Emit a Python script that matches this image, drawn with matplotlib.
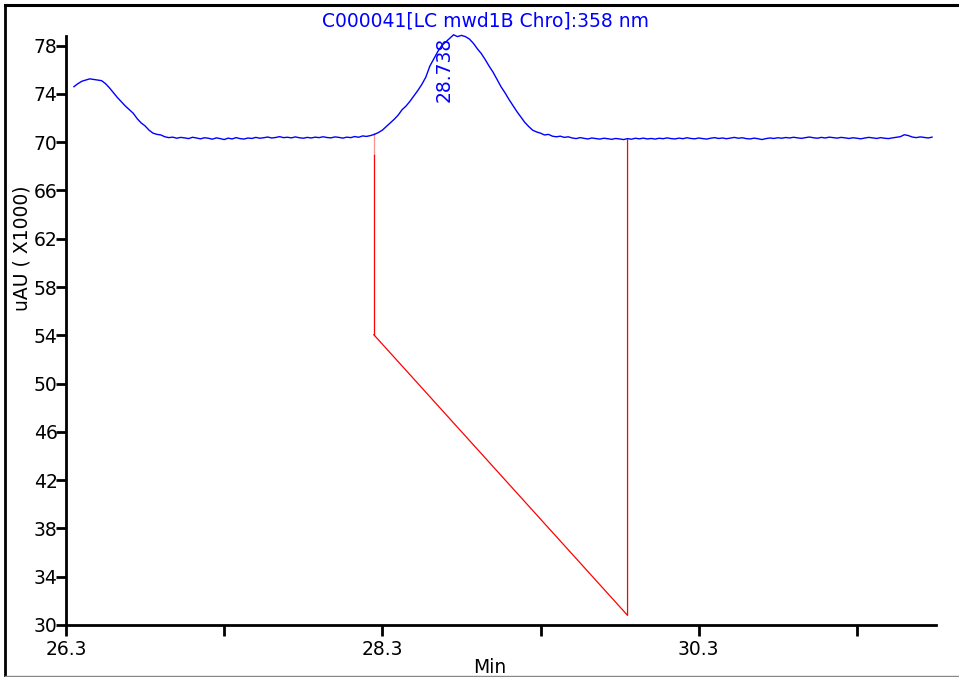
import numpy as np
import matplotlib
matplotlib.use("Agg")
import matplotlib.pyplot as plt
from matplotlib.lines import Line2D

plt.rcParams['font.family'] = ['DejaVu Sans']

# Detector trace, sampled every 0.025 min from 26.35 min
t_start = 26.35
t_step = 0.025
signal = [
    # early hump and fall-off
    74.6, 74.85, 75.05, 75.15, 75.25, 75.2, 75.15, 75.1, 74.85, 74.5,
    74.1, 73.7, 73.35, 73.0, 72.7, 72.4, 71.95, 71.6, 71.35, 71.0,
    70.75, 70.65, 70.6, 70.45,
    # baseline before the peak
    70.38, 70.42, 70.33, 70.40, 70.36, 70.30, 70.41, 70.35, 70.28, 70.37,
    70.33, 70.25, 70.36, 70.30, 70.22, 70.34, 70.27, 70.38, 70.30, 70.26,
    70.35, 70.31, 70.40, 70.33, 70.37, 70.43, 70.35, 70.39, 70.46, 70.38,
    70.41, 70.36, 70.44, 70.37, 70.33, 70.40, 70.35, 70.42, 70.38, 70.45,
    70.39, 70.36, 70.44, 70.40, 70.34, 70.42, 70.38, 70.47, 70.41, 70.52, 70.48,
    # peak at 28.738 min
    70.55, 70.65, 70.8, 71.0, 71.3, 71.6, 71.9, 72.25, 72.7, 73.0,
    73.4, 73.85, 74.3, 74.8, 75.4, 76.3, 76.9, 77.5, 78.0, 78.3,
    78.6, 78.9, 78.75, 78.85, 78.75, 78.55, 78.2, 77.75, 77.35, 76.85,
    76.3, 75.8, 75.2, 74.6, 74.1, 73.55, 73.05, 72.55, 72.1, 71.65,
    71.3, 71.0, 70.85, 70.75, 70.6, 70.65, 70.5, 70.45, 70.5, 70.4,
    70.45, 70.35,
    # baseline after the peak
    70.30, 70.38, 70.32, 70.27, 70.35, 70.30, 70.26, 70.33, 70.29, 70.24,
    70.31, 70.27, 70.22, 70.30, 70.25, 70.33, 70.28, 70.34, 70.27, 70.31,
    70.26, 70.33, 70.29, 70.36, 70.30, 70.27, 70.34, 70.29, 70.37, 70.31,
    70.28, 70.35, 70.30, 70.26, 70.33, 70.38, 70.31, 70.35, 70.29, 70.34,
    70.40, 70.33, 70.37, 70.30, 70.27, 70.34, 70.29, 70.22, 70.30, 70.35,
    70.31, 70.37, 70.33, 70.39, 70.35, 70.41, 70.36, 70.32, 70.38, 70.43,
    70.37, 70.33, 70.40, 70.35, 70.42, 70.38, 70.34, 70.40, 70.36, 70.31,
    70.37, 70.33, 70.28, 70.35, 70.40, 70.36, 70.31, 70.38, 70.33, 70.30,
    70.36, 70.41, 70.46, 70.62, 70.55, 70.43, 70.38, 70.44, 70.40, 70.35,
    70.42,
]
times = t_start + t_step * np.arange(len(signal))

# Integration baseline event marks
event_t = [28.246, 28.246, 29.85, 29.85]
event_v = [70.8, 54.05, 30.8, 70.2]

peak_rt = 28.738
peak_label = "28.738"

title = "C000041[LC mwd1B Chro]:358 nm"
x_ticks_major = [26.3, 28.3, 30.3]
x_ticks_minor = [27.3, 29.3, 31.3]
y_ticks = [30, 34, 38, 42, 46, 50, 54, 58, 62, 66, 70, 74, 78]

FS = 13.5
W, H = 959, 677
fig = plt.figure(figsize=(W / 100, H / 100), dpi=100)
fig.patch.set_facecolor('white')

ax = fig.add_axes([66 / W, 1 - 625 / H, (936 - 66) / W, (625 - 36) / H])
ax.set_xlim(26.3, 31.8)
ax.set_ylim(30, 78.8)

ax.plot(times, signal, color='#0000ff', lw=1.0, clip_on=False, zorder=3)
ax.plot(event_t[:2], [event_v[0], 68.9], color='#ff9090', lw=0.9, zorder=2)
ax.plot(event_t[:2], [68.9, event_v[1]], color='#ff0000', lw=0.9, zorder=2)
ax.plot(event_t[1:], event_v[1:], color='#ff0000', lw=0.9, zorder=2)

ax.text(peak_rt + 0.01, 73.3, peak_label, rotation=90, color='#0000ff',
        ha='right', va='bottom', fontsize=FS)

for side in ('top', 'right'):
    ax.spines[side].set_visible(False)
for side in ('left', 'bottom'):
    ax.spines[side].set_linewidth(2.0)
    ax.spines[side].set_color('black')

ax.set_xticks(x_ticks_major)
ax.set_xticklabels([f"{v:.1f}" for v in x_ticks_major])
ax.set_xticks(x_ticks_minor, minor=True)
ax.set_yticks(y_ticks)
ax.set_yticklabels([str(v) for v in y_ticks])
ax.tick_params(axis='x', which='both', direction='out', length=8, width=2,
               pad=3, labelsize=FS)
ax.tick_params(axis='y', direction='out', length=7, width=2, pad=-1,
               labelsize=FS)

fig.text(485 / W, 1 - 21 / H, title, color='#0000ff', ha='center',
         va='center', fontsize=FS)
fig.text(22 / W, 1 - 248 / H, "uAU ( X1000)", rotation=90, ha='center',
         va='center', fontsize=FS)
fig.text(490 / W, 1 - 658 / H, "Min", ha='center', va='top', fontsize=FS)

# Window frame around the plot
fig.add_artist(Line2D([5 / W, 5 / W], [0, 1 - 5 / H], color='black', lw=2.0,
                      transform=fig.transFigure))
fig.add_artist(Line2D([5 / W, 1], [1 - 5 / H, 1 - 5 / H], color='black',
                      lw=2.2, transform=fig.transFigure))
fig.add_artist(Line2D([5 / W, 1], [1 - 676 / H, 1 - 676 / H], color='#888888',
                      lw=1.0, transform=fig.transFigure))

fig.savefig("out.png", dpi=100, facecolor='white')
